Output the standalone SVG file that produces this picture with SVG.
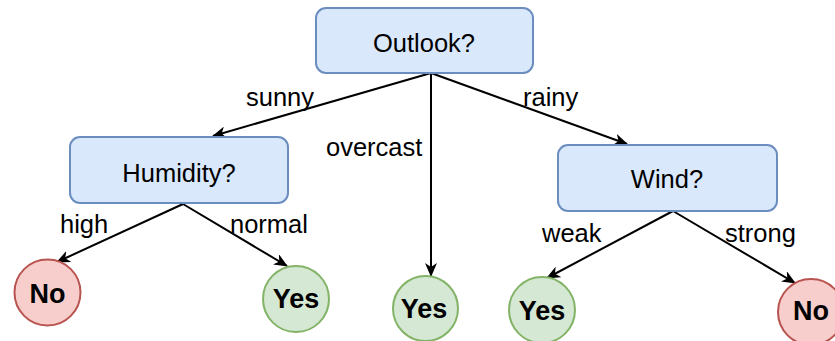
<svg xmlns="http://www.w3.org/2000/svg" width="835" height="341" viewBox="0 0 835 341">
  <style>
    .decision rect { fill: #dae8fc; stroke: #6c8ebf; stroke-width: 2; }
    .yes circle { fill: #d5e8d4; stroke: #82b366; stroke-width: 2; }
    .no circle { fill: #f8cecc; stroke: #b85450; stroke-width: 2; }
    text { font-family: "Liberation Sans", Arial, sans-serif; fill: #000; }
    .q { font-size: 25.5px; text-anchor: middle; }
    .leaf { font-size: 27px; font-weight: bold; text-anchor: middle; }
    .lbl { font-size: 25.5px; }
    #edges line { stroke: #000; stroke-width: 2; marker-end: url(#arrow); }
  </style>
  <defs>
    <marker id="arrow" viewBox="0 0 14 12" refX="13" refY="6" markerWidth="14" markerHeight="12" markerUnits="userSpaceOnUse" orient="auto">
      <path d="M0,0 L14,6 L0,12 L4,6 Z" fill="#000"/>
    </marker>
  </defs>

  <g id="edges">
    <line x1="431" y1="73" x2="213" y2="136"/>
    <line x1="431" y1="73" x2="431" y2="276"/>
    <line x1="431" y1="73" x2="627" y2="144"/>
    <line x1="183" y1="204" x2="57" y2="262"/>
    <line x1="183" y1="204" x2="287" y2="266"/>
    <line x1="673" y1="211" x2="547" y2="278"/>
    <line x1="673" y1="211" x2="795" y2="283"/>
  </g>

  <g id="edge-labels">
    <text class="lbl" x="246" y="106">sunny</text>
    <text class="lbl" x="326" y="156">overcast</text>
    <text class="lbl" x="523" y="106">rainy</text>
    <text class="lbl" x="60" y="233">high</text>
    <text class="lbl" x="230" y="233">normal</text>
    <text class="lbl" x="542" y="242">weak</text>
    <text class="lbl" x="725" y="242">strong</text>
  </g>

  <g id="outlook" class="decision">
    <rect x="316" y="8" width="217" height="65" rx="10"/>
    <text class="q" x="424" y="52">Outlook?</text>
  </g>
  <g id="humidity" class="decision">
    <rect x="70" y="137" width="218" height="66" rx="10"/>
    <text class="q" x="179" y="182">Humidity?</text>
  </g>
  <g id="wind" class="decision">
    <rect x="558" y="145" width="219" height="66" rx="10"/>
    <text class="q" x="667" y="188">Wind?</text>
  </g>

  <g id="no-high" class="no">
    <circle cx="47.5" cy="292.5" r="33"/>
    <text class="leaf" x="47.5" y="303">No</text>
  </g>
  <g id="yes-normal" class="yes">
    <circle cx="296" cy="299" r="33"/>
    <text class="leaf" x="296" y="308">Yes</text>
  </g>
  <g id="yes-overcast" class="yes">
    <circle cx="425.5" cy="308.5" r="32.5"/>
    <text class="leaf" x="424" y="318">Yes</text>
  </g>
  <g id="yes-weak" class="yes">
    <circle cx="542" cy="310" r="33"/>
    <text class="leaf" x="542" y="320">Yes</text>
  </g>
  <g id="no-strong" class="no">
    <circle cx="811" cy="312" r="33"/>
    <text class="leaf" x="811" y="320">No</text>
  </g>
</svg>
